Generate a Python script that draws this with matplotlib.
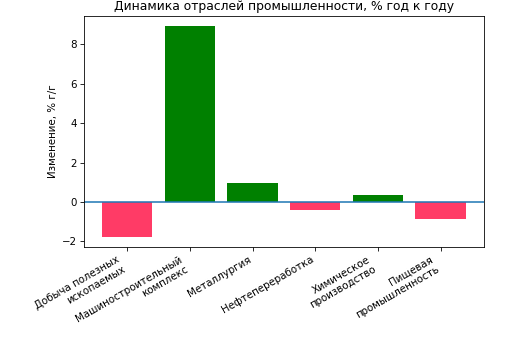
import matplotlib.pyplot as plt

categories = ['Добыча полезных\nископаемых', 'Машиностроительный\nкомплекс',
              'Металлургия', 'Нефтепереработка',
              'Химическое\nпроизводство', 'Пищевая\nпромышленность']
changes = [-1.75, 8.9, 0.95, -0.4, 0.35, -0.85]

colors = ['green' if v > 0 else '#ff3b66' for v in changes]

fig, ax = plt.subplots(figsize=(523 / 74, 347 / 74), dpi=74)
ax.bar(range(len(changes)), changes, color=colors)
ax.axhline(0)
ax.set_xticks(range(len(changes)))
ax.set_xticklabels(categories, rotation=30, ha='right')
ax.set_ylabel('Изменение, % г/г')
ax.set_title('Динамика отраслей промышленности, % год к году')
fig.subplots_adjust(left=0.1606, right=0.925, top=0.954, bottom=0.288)
fig.savefig('out.png')
